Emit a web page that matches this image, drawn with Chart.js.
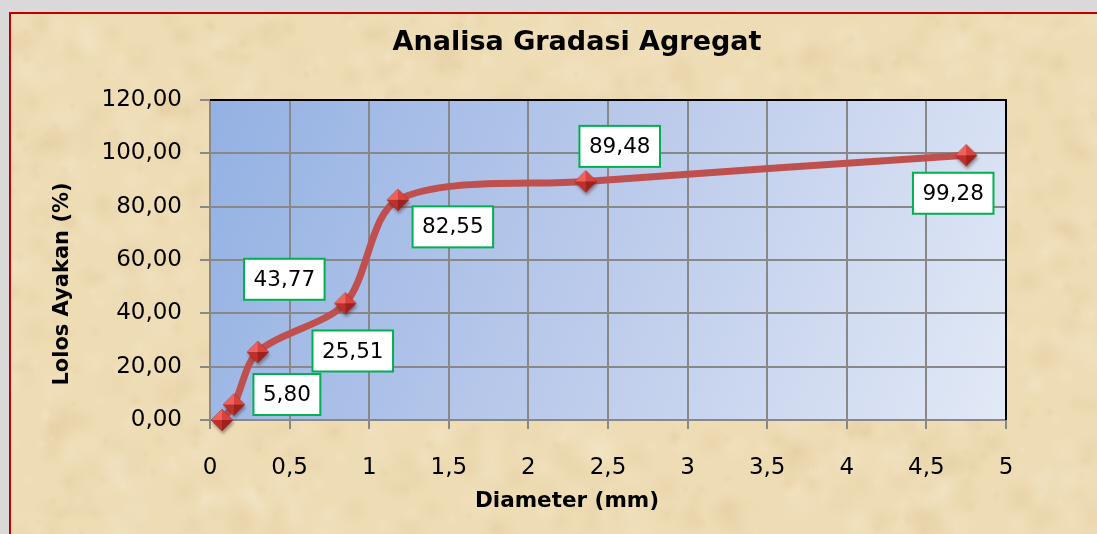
<!DOCTYPE html>
<html>
<head>
<meta charset="utf-8">
<script src="https://cdn.jsdelivr.net/npm/chart.js@4.4.1/dist/chart.umd.min.js"></script>
<style>
html,body{margin:0;padding:0;background:#d9d9d9;overflow:hidden;}
canvas{display:block;}
</style>
</head>
<body>
<canvas id="c" width="1097" height="534"></canvas>
<script>
// ---- data ----
const chartTitle = 'Analisa Gradasi Agregat';
const xAxisTitle = 'Diameter (mm)';
const yAxisTitle = 'Lolos Ayakan (%)';
const diameters = [0.075, 0.15, 0.3, 0.85, 1.18, 2.36, 4.75];
const passing = [0.00, 5.80, 25.51, 43.77, 82.55, 89.48, 99.28];
const pointLabels = ['', '5,80', '25,51', '43,77', '82,55', '89,48', '99,28'];
const xTickValues = [0, 0.5, 1, 1.5, 2, 2.5, 3, 3.5, 4, 4.5, 5];
const xTickLabels = ['0', '0,5', '1', '1,5', '2', '2,5', '3', '3,5', '4', '4,5', '5'];
const yTickValues = [0, 20, 40, 60, 80, 100, 120];
const yTickLabels = ['0,00', '20,00', '40,00', '60,00', '80,00', '100,00', '120,00'];

// ---- label placement (pixel offsets of label box centre from its point) ----
const labelOffsets = [null, [53, -10], [95, -1], [-61, -24], [55, 27], [34, -35], [-13, 38]];

const FONT = "'DejaVu Sans', sans-serif";

// deterministic pseudo-noise for the parchment texture
function lcg(seed){ let s = seed; return () => (s = (s * 1664525 + 1013904223) % 4294967296) / 4294967296; }

function makeMarker(){
  const c = document.createElement('canvas');
  c.width = 32; c.height = 32;
  const g = c.getContext('2d');
  const cx = 16, cy = 16, r = 11;
  g.save();
  g.filter = 'blur(1.5px)';
  g.fillStyle = 'rgba(70,40,40,0.45)';
  g.beginPath();
  g.moveTo(cx + 1, cy - r + 3); g.lineTo(cx + r + 1, cy + 3); g.lineTo(cx + 1, cy + r + 3); g.lineTo(cx - r + 1, cy + 3);
  g.closePath(); g.fill();
  g.restore();
  const T = [cx, cy - r], R = [cx + r, cy], B = [cx, cy + r], L = [cx - r, cy], C = [cx, cy];
  const facets = [[L, T, '#ee625b'], [T, R, '#d8433d'], [R, B, '#9e211d'], [B, L, '#bd302c']];
  facets.forEach(([a, b, col]) => {
    g.fillStyle = col;
    g.beginPath(); g.moveTo(C[0], C[1]); g.lineTo(a[0], a[1]); g.lineTo(b[0], b[1]); g.closePath(); g.fill();
  });
  g.strokeStyle = 'rgba(120,20,20,0.5)';
  g.lineWidth = 0.6;
  g.beginPath(); g.moveTo(T[0], T[1]); g.lineTo(R[0], R[1]); g.lineTo(B[0], B[1]); g.lineTo(L[0], L[1]); g.closePath(); g.stroke();
  return c;
}
const marker = makeMarker();

const backgroundPlugin = {
  id: 'bg',
  beforeDraw(chart){
    const ctx = chart.ctx, W = chart.width, H = chart.height;
    ctx.save();
    ctx.fillStyle = '#d9d9d9';
    ctx.fillRect(0, 0, W, H);
    // parchment
    ctx.fillStyle = '#eedcb5';
    ctx.fillRect(10, 13, W - 10, H - 13);
    ctx.beginPath(); ctx.rect(10, 13, W - 10, H - 13); ctx.clip();
    const rnd = lcg(987654);
    for (let i = 0; i < 1400; i++) {
      const x = 10 + rnd() * (W - 10), y = 13 + rnd() * (H - 13);
      const rad = 4 + rnd() * 18;
      const dark = rnd() < 0.5;
      const gr = ctx.createRadialGradient(x, y, 0, x, y, rad);
      gr.addColorStop(0, dark ? 'rgba(210,180,125,0.13)' : 'rgba(248,238,214,0.18)');
      gr.addColorStop(1, dark ? 'rgba(210,180,125,0)' : 'rgba(248,238,214,0)');
      ctx.fillStyle = gr;
      ctx.fillRect(x - rad, y - rad, rad * 2, rad * 2);
    }
    ctx.restore();
    // red frame
    ctx.save();
    ctx.strokeStyle = '#c00000';
    ctx.lineWidth = 2;
    ctx.beginPath(); ctx.moveTo(10, H + 2); ctx.lineTo(10, 13); ctx.lineTo(W + 2, 13); ctx.stroke();
    // plot area gradient
    const a = chart.chartArea;
    const pg = ctx.createLinearGradient(a.left, a.top, a.right, a.bottom);
    pg.addColorStop(0, '#93b1e3');
    pg.addColorStop(0.5, '#bccbeb');
    pg.addColorStop(1, '#e2e9f6');
    ctx.fillStyle = pg;
    ctx.fillRect(a.left, a.top, a.right - a.left, a.bottom - a.top);
    // titles
    ctx.fillStyle = '#000';
    ctx.textAlign = 'center';
    ctx.textBaseline = 'alphabetic';
    ctx.font = "bold 27px " + FONT;
    ctx.fillText(chartTitle, 577, 50);
    ctx.font = "bold 21.5px " + FONT;
    ctx.fillText(xAxisTitle, 567, 507);
    ctx.translate(68, 284);
    ctx.rotate(-Math.PI / 2);
    ctx.font = "bold 21px " + FONT;
    ctx.fillText(yAxisTitle, 0, 0);
    ctx.restore();
  },
  beforeDatasetsDraw(chart){
    const ctx = chart.ctx, a = chart.chartArea;
    ctx.save();
    ctx.strokeStyle = '#000';
    ctx.lineWidth = 2;
    ctx.beginPath();
    ctx.moveTo(a.left, a.top); ctx.lineTo(a.right, a.top); ctx.lineTo(a.right, a.bottom);
    ctx.stroke();
    ctx.restore();
  },
  afterDatasetsDraw(chart){
    const ctx = chart.ctx;
    const meta = chart.getDatasetMeta(0);
    ctx.save();
    ctx.font = "21.5px " + FONT;
    ctx.textAlign = 'center';
    ctx.textBaseline = 'middle';
    meta.data.forEach((pt, i) => {
      const txt = pointLabels[i];
      const off = labelOffsets[i];
      if (!txt || !off) return;
      const cx = pt.x + off[0], cy = pt.y + off[1];
      const w = ctx.measureText(txt).width + 19, h = 41;
      ctx.fillStyle = '#ffffff';
      ctx.fillRect(cx - w / 2, cy - h / 2, w, h);
      ctx.strokeStyle = '#00b050';
      ctx.lineWidth = 2;
      ctx.strokeRect(cx - w / 2, cy - h / 2, w, h);
      ctx.fillStyle = '#000';
      ctx.fillText(txt, cx, cy + 1);
    });
    ctx.restore();
  }
};

const gridColor = '#888888';

new Chart(document.getElementById('c'), {
  type: 'line',
  data: {
    datasets: [{
      label: 'Lolos Ayakan',
      data: diameters.map((d, i) => ({ x: d, y: passing[i] })),
      borderColor: '#c0504d',
      borderWidth: 7,
      tension: 0.3,
      pointStyle: marker,
      pointRadius: 11,
      pointHoverRadius: 11,
      fill: false,
      clip: false
    }]
  },
  options: {
    responsive: false,
    animation: false,
    devicePixelRatio: 1,
    layout: { padding: { top: 100, left: 0, right: 91, bottom: 0 } },
    plugins: {
      legend: { display: false },
      title: { display: false },
      tooltip: { enabled: false }
    },
    scales: {
      x: {
        type: 'linear',
        min: 0, max: 5,
        afterBuildTicks: s => { s.ticks = xTickValues.map(v => ({ value: v })); },
        afterFit: s => { s.height = 114; },
        ticks: {
          callback: (v, i) => xTickLabels[i],
          color: '#000',
          font: { family: FONT, size: 23 },
          padding: 25,
          maxRotation: 0,
          autoSkip: false
        },
        grid: { color: gridColor, lineWidth: 2, tickLength: 9, drawTicks: true },
        border: { color: gridColor, width: 2 }
      },
      y: {
        type: 'linear',
        min: 0, max: 120,
        afterBuildTicks: s => { s.ticks = yTickValues.map(v => ({ value: v })); },
        afterFit: s => { s.width = 210; },
        ticks: {
          callback: (v, i) => yTickLabels[i],
          color: '#000',
          font: { family: FONT, size: 23 },
          padding: 18,
          autoSkip: false
        },
        grid: { color: gridColor, lineWidth: 2, tickLength: 10, drawTicks: true },
        border: { color: gridColor, width: 2 }
      }
    }
  },
  plugins: [backgroundPlugin]
});
</script>
</body>
</html>
